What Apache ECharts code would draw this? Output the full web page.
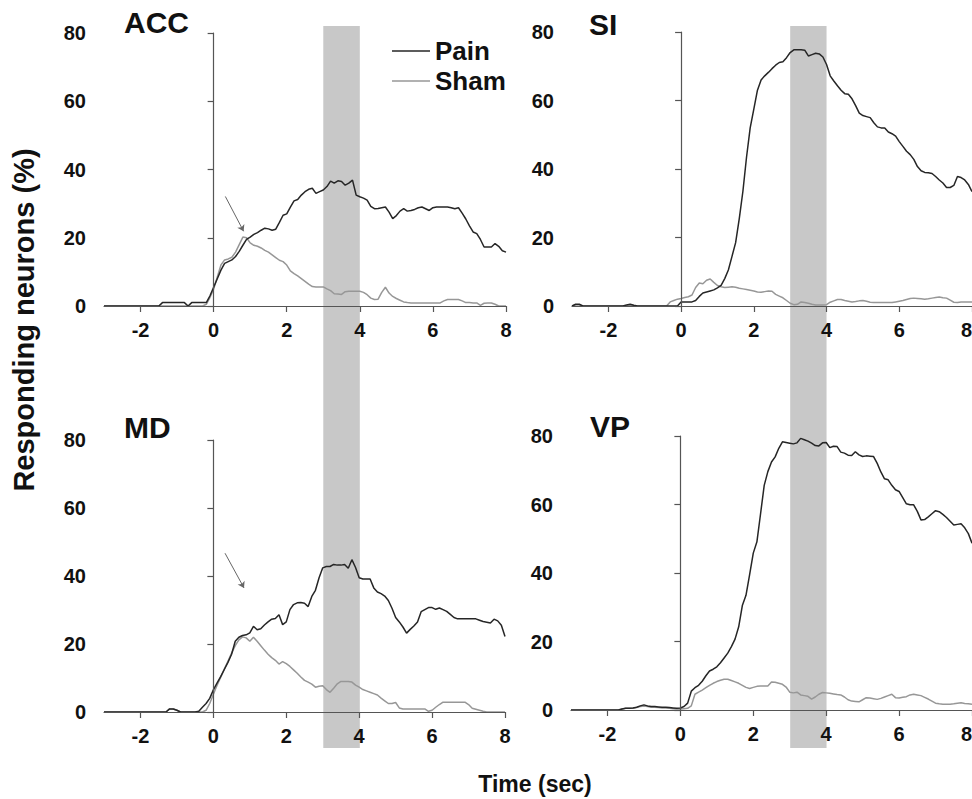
<!DOCTYPE html>
<html>
<head>
<meta charset="utf-8">
<title>Responding neurons</title>
<script src="https://cdn.jsdelivr.net/npm/echarts@6.0.0/dist/echarts.min.js"></script>
<style>
  html, body { margin: 0; padding: 0; background: #fff; }
  #chart { width: 972px; height: 799px; }
</style>
</head>
<body>
<div id="chart"></div>
<script>
// time axis (sec), one sample every 0.1 s
var time = [
  -3, -2.9, -2.8, -2.7, -2.6, -2.5, -2.4, -2.3, -2.2, -2.1,
  -2, -1.9, -1.8, -1.7, -1.6, -1.5, -1.4, -1.3, -1.2, -1.1,
  -1, -0.9, -0.8, -0.7, -0.6, -0.5, -0.4, -0.3, -0.2, -0.1,
  0, 0.1, 0.2, 0.3, 0.4, 0.5, 0.6, 0.7, 0.8, 0.9,
  1, 1.1, 1.2, 1.3, 1.4, 1.5, 1.6, 1.7, 1.8, 1.9,
  2, 2.1, 2.2, 2.3, 2.4, 2.5, 2.6, 2.7, 2.8, 2.9,
  3, 3.1, 3.2, 3.3, 3.4, 3.5, 3.6, 3.7, 3.8, 3.9,
  4, 4.1, 4.2, 4.3, 4.4, 4.5, 4.6, 4.7, 4.8, 4.9,
  5, 5.1, 5.2, 5.3, 5.4, 5.5, 5.6, 5.7, 5.8, 5.9,
  6, 6.1, 6.2, 6.3, 6.4, 6.5, 6.6, 6.7, 6.8, 6.9,
  7, 7.1, 7.2, 7.3, 7.4, 7.5, 7.6, 7.7, 7.8, 7.9,
  8
];

// ACC
var accPain = [
  0, 0, 0, 0, 0, 0, 0, 0, 0, 0,
  0, 0, 0, 0, 0, 0, 1, 1, 1, 1,
  1, 1, 1, 0, 1, 1, 1, 1, 1, 3,
  5.5, 8, 10.5, 12.5, 13, 13.5, 14.5, 16, 17.8, 19.5,
  20.2, 21, 21.5, 22.2, 22.8, 22.6, 22.2, 22.5, 24.5, 26.6,
  27, 29, 30.8, 31.2, 32.5, 33.5, 34.2, 34.5, 33, 33.5,
  34, 35, 36.6, 36, 36.7, 36.5, 35.4, 36, 36.9, 32.5,
  32, 31.6, 31, 29.2, 28.5, 28.6, 28.8, 29, 27.5, 25.6,
  26.5, 27.8, 28.5, 27.8, 28, 28.3, 28.8, 29, 28.5, 28,
  28.8, 29, 29, 29, 29, 28.8, 28.5, 28.8, 27.2, 25.5,
  23.5, 21.7, 21.2, 19.5, 17.3, 17.3, 17.3, 18.3, 17.5, 16.2,
  15.8
];
var accSham = [
  0, 0, 0, 0, 0, 0, 0, 0, 0, 0,
  0, 0, 0, 0, 0, 0, 0, 0, 0, 0,
  0, 0, 0, 0, 0, 0, 0, 0, 0.5, 2.5,
  5, 8.5, 12, 13.5, 13.8, 14.3, 15.8, 18, 20.2, 20,
  18.5, 17.8, 17.5, 17, 16.3, 15.8, 15, 14.2, 13.4, 13,
  12, 10.3, 9.5, 8.8, 8, 7.2, 6.4, 5.7, 5.6, 5.6,
  5.6, 5, 4.5, 3.6, 3.5, 3.4, 4.2, 4.3, 4.3, 4.3,
  4.3, 4, 3.3, 2.3, 1.9, 2, 4, 5.5, 3.8, 2.8,
  2.2, 1.7, 1.2, 1, 0.9, 0.9, 0.9, 0.9, 0.9, 0.9,
  0.9, 0.9, 0.9, 1.5, 1.9, 1.9, 1.9, 1.9, 1.5, 1,
  1, 0.9, 0.9, 0.2, 0.8, 0.9, 0.9, 0.5, 0, 0,
  0
];

// SI
var siPain = [
  0, 0.5, 0.5, 0, 0, 0, 0, 0, 0, 0,
  0, 0, 0, 0, 0, 0.3, 0.5, 0.2, 0, 0,
  0, 0, 0, 0, 0, 0, 0, 0, 0, 0,
  1.2, 1.2, 1.2, 1.2, 1.6, 2.8, 3.8, 4.1, 4.4, 4.7,
  5.3, 6, 8, 10.5, 14.5, 18.5, 25.5, 33.5, 43.5, 52,
  57.5, 63, 66, 67.2, 68.2, 69.3, 70.3, 71.1, 71.3, 72.5,
  74, 74.8, 74.8, 74.8, 74.7, 73, 73.4, 73.8, 73.6, 72.7,
  70.5, 67.2, 65.7, 64.3, 63, 62, 61.8, 60.5, 58.5, 56.3,
  55.6, 55.3, 55, 53.5, 52.3, 52, 52, 50.8, 50.3, 49.6,
  48, 46.6, 45.2, 44.2, 42.8, 40.7, 39.5, 39, 38.9, 38.7,
  37.8, 36.8, 35.9, 34.6, 34.6, 35.2, 37.8, 37.5, 36.8, 35.5,
  33.4
];
var siSham = [
  0, 0.3, 0.3, 0, 0, 0, 0, 0, 0, 0,
  0, 0, 0, 0, 0, 0, 0.3, 0, 0, 0,
  0, 0, 0, 0, 0, 0, 0, 1.2, 1.6, 2,
  2.2, 2.5, 2.7, 3.2, 5.4, 6.7, 6.5, 7.5, 7.9, 6.9,
  6, 5.6, 5.4, 5.5, 5.6, 5.5, 5.2, 5, 4.8, 4.6,
  4.4, 4.1, 4, 4.2, 4.4, 4.3, 3.4, 2.9, 2.4, 1.6,
  0.8, 0.4, 0.5, 1.2, 1, 0.8, 0.5, 0.3, 0.3, 0.3,
  0.4, 1.1, 1.5, 1.9, 1.9, 1.6, 1.4, 1.2, 1.3, 1.5,
  1.6, 1.4, 1.1, 1, 1, 1, 1, 1, 1, 1.2,
  1.4, 1.6, 1.9, 2.2, 2.3, 2.2, 2.1, 2, 2.1, 2.3,
  2.5, 2.6, 2.4, 2.3, 1.7, 1.1, 1, 1.2, 1.2, 1.2,
  1.2
];

// MD
var mdPain = [
  0, 0, 0, 0, 0, 0, 0, 0, 0, 0,
  0, 0, 0, 0, 0, 0, 0, 0, 0.9, 0.9,
  0.5, 0, 0, 0, 0, 0, 0.2, 1.4, 2.5, 4,
  6.5, 8.5, 10.4, 12.5, 14.6, 17, 20.8, 22, 22.5, 22.7,
  23.3, 25.2, 24.2, 24.5, 25.6, 26.5, 27.3, 27.5, 28.6, 25.7,
  26.5, 30.1, 31.6, 32.1, 32.2, 32, 31, 34, 35.8, 39.5,
  42.4, 42.8, 42.8, 43.4, 43.2, 43.2, 43.4, 42.3, 44.8, 42.5,
  39.5, 39.1, 39.1, 39.1, 36.5, 35.3, 34.8, 34.1, 32.8, 30.5,
  27.8, 26.5, 25, 23.2, 24.3, 25.3, 26.5, 29.5, 30.1, 30.7,
  30.7, 30.2, 30.6, 30.1, 29.6, 28.7, 27.8, 27.4, 27.4, 27.4,
  27.4, 27.4, 27.4, 27, 26.6, 26.4, 26.2, 27.3, 26.8, 25.5,
  22.2
];
var mdSham = [
  0, 0, 0, 0, 0, 0, 0, 0, 0, 0,
  0, 0, 0, 0, 0, 0, 0, 0, 0.9, 0.9,
  0.5, 0, 0, 0, 0, 0, 0, 0, 0.5, 2.5,
  5.2, 7.8, 10.2, 12.6, 14.9, 17.3, 19.5, 21.2, 22.1, 21.8,
  20.8, 22, 20.8, 19.5, 18.2, 17, 16, 15.2, 14.1, 14.8,
  14.2, 13.4, 12.4, 11.4, 10.3, 9.3, 8.8, 8.2, 7.3, 7.6,
  7.7, 6.6, 5.8, 7, 8.3, 9, 9, 9, 8.8, 7.9,
  7.3, 6.6, 6.2, 5.8, 5.4, 5, 4.1, 3.3, 2.5, 2.5,
  2.8, 1.2, 0.9, 0.9, 0.9, 0.9, 0.9, 0.9, 0.9, 0.2,
  0.5, 1.4, 2.2, 2.9, 2.9, 2.9, 2.9, 2.9, 2.9, 2.9,
  2.2, 1.1, 0.8, 0.5, 0.2, 0, 0, 0, 0, 0,
  0
];

// VP
var vpPain = [
  0, 0, 0, 0, 0, 0, 0, 0, 0, 0,
  0, 0, 0, 0, 0.3, 0.5, 0.5, 0.6, 0.8, 1.2,
  1.5, 1.2, 1, 1, 0.9, 0.8, 0.8, 0.7, 0.6, 0.5,
  0.6, 1, 2, 5.5, 6.5, 7.2, 8.4, 10, 11.4, 11.9,
  12.6, 13.8, 15.2, 16.6, 18.5, 20.7, 24.3, 30.5, 33.5, 39.5,
  45.8, 49.1, 57.3, 65.6, 69.6, 72.4, 73.9, 76.4, 78.3, 78.1,
  77.9, 77.7, 78, 79.3, 78.9, 78.5, 77.9, 77.2, 77.1, 78,
  78.1, 76.6, 77, 76.9, 75.3, 75, 74.4, 74.3, 75.4, 74.5,
  74, 74.2, 74.1, 74, 72, 69.5, 67.5, 67.2, 65.6, 64.3,
  63.8, 62, 60.2, 59.9, 59.9, 58, 55.5, 55.6, 56.4, 57.3,
  58.2, 57.9, 57.1, 56.2, 55.1, 54, 54.2, 54.4, 53.2, 51.5,
  48.7
];
var vpSham = [
  0, 0, 0, 0, 0, 0, 0, 0, 0, 0,
  0, 0, 0, 0, 0.3, 0.5, 0.5, 0.5, 0.7, 1,
  1.2, 1, 0.8, 0.8, 0.7, 0.6, 0.6, 0.5, 0.4, 0.3,
  0.3, 0.4, 0.5, 1.2, 4.6, 5.2, 5.8, 6.5, 7.2, 7.8,
  8.3, 8.7, 9, 9, 8.6, 8.2, 7.8, 7.2, 6.6, 6.3,
  6.6, 6.9, 7, 7, 7, 8.2, 8.1, 7.8, 7.5, 6.7,
  5.2, 5, 5.2, 4.4, 4.2, 4, 3.2, 3.8, 4.6, 5.1,
  5, 4.9, 4.7, 4.5, 4.4, 3.8, 3, 2.6, 2.5, 2.4,
  3, 3.6, 3.5, 3.3, 3.1, 3.4, 3.8, 4.2, 4.6, 3.6,
  3.5, 3.7, 3.9, 4.4, 4.6, 4.4, 4.2, 3.7, 3.2, 2.6,
  2, 1.8, 1.7, 1.7, 1.7, 1.8, 2, 2.1, 1.9, 1.8,
  1.7
];

var panelNames = ['ACC', 'SI', 'MD', 'VP'];
var painData = [accPain, siPain, mdPain, vpPain];
var shamData = [accSham, siSham, mdSham, vpSham];
var xTicks = [-2, 0, 2, 4, 6, 8];
var yTicks = [0, 20, 40, 60, 80];
var stimWindow = [3, 4];          // grey band, sec
var stimOnset = 0;                // dotted line, sec
// arrows (data coords): [start, end]
var accArrow = [[0.32, 32.1], [0.82, 21.9]];
var mdArrow = [[0.32, 46.7], [0.84, 36.5]];

var FONT = 'Liberation Sans, Arial, sans-serif';
var PAIN_COLOR = '#262626';
var SHAM_COLOR = '#979797';
var AXIS_COLOR = '#555';

function pairs(ys) {
  return time.map(function (t, i) { return [t, ys[i]]; });
}

var chart = echarts.init(document.getElementById('chart'), null, { renderer: 'svg' });

// panel grids + two tall grids for the grey band that runs through both rows
var grids = [
  { left: 104, top: 33, width: 402, height: 273 },
  { left: 572, top: 32, width: 400, height: 274 },
  { left: 104, top: 440, width: 401, height: 272 },
  { left: 571, top: 436, width: 401, height: 274 },
  { left: 104, top: 26, width: 402, height: 722 },
  { left: 572, top: 26, width: 400, height: 722 }
].map(function (g) { g.outerBoundsMode = 'none'; g.containLabel = false; return g; });

var xAxes = [], yAxes = [], series = [];
for (var i = 0; i < 4; i++) {
  var rightCol = (i % 2 === 1);
  xAxes.push({
    gridIndex: i, type: 'value', min: -3, max: 8, z: 6,
    axisLine: { show: true, onZero: false, lineStyle: { color: AXIS_COLOR, width: 1.2 } },
    axisTick: { show: true, length: 6, customValues: xTicks, lineStyle: { color: AXIS_COLOR, width: 1.2 } },
    axisLabel: {
      customValues: xTicks, margin: 14, fontSize: 20, fontWeight: 'bold', color: '#111', fontFamily: FONT,
      // right column runs to the page edge: keep the last label inside
      alignMaxLabel: rightCol ? 'right' : null
    },
    splitLine: { show: false }
  });
  yAxes.push({
    gridIndex: i, type: 'value', min: 0, max: 80, interval: 20, z: 6,
    axisLine: { show: true, lineStyle: { color: AXIS_COLOR, width: 1.2 } },
    axisTick: { show: true, length: 6, lineStyle: { color: AXIS_COLOR, width: 1.2 } },
    axisLabel: { margin: 18, fontSize: 20, fontWeight: 'bold', color: '#111', fontFamily: FONT },
    splitLine: { show: false }
  });
  var arrow = i === 0 ? accArrow : (i === 2 ? mdArrow : null);
  series.push({
    name: 'Sham', type: 'line', xAxisIndex: i, yAxisIndex: i,
    data: pairs(shamData[i]), showSymbol: false, z: 3,
    color: SHAM_COLOR,
    lineStyle: { color: SHAM_COLOR, width: 1.5 },
    markLine: {
      silent: true, symbol: 'none', label: { show: false },
      lineStyle: { color: '#e2e2e2', type: 'dotted', width: 1 },
      data: [{ xAxis: stimOnset }]
    }
  });
  series.push({
    name: 'Pain', type: 'line', xAxisIndex: i, yAxisIndex: i,
    data: pairs(painData[i]), showSymbol: false, z: 4,
    color: PAIN_COLOR,
    lineStyle: { color: PAIN_COLOR, width: 1.5 },
    markLine: arrow ? {
      silent: true, symbol: ['none', 'arrow'], symbolSize: 6, label: { show: false },
      lineStyle: { color: '#666', type: 'solid', width: 1 },
      data: [[{ coord: arrow[0] }, { coord: arrow[1] }]]
    } : undefined
  });
}
for (var j = 4; j < 6; j++) {
  xAxes.push({ gridIndex: j, type: 'value', min: -3, max: 8, show: false });
  yAxes.push({ gridIndex: j, type: 'value', min: 0, max: 1, show: false });
  series.push({
    type: 'line', xAxisIndex: j, yAxisIndex: j, data: [], silent: true, z: 0,
    markArea: {
      silent: true,
      itemStyle: { color: '#c8c8c8' },
      data: [[{ xAxis: stimWindow[0] }, { xAxis: stimWindow[1] }]]
    }
  });
}

var titlePos = [
  { left: 124, top: 7 },
  { left: 589, top: 9 },
  { left: 124, top: 412 },
  { left: 590, top: 411 }
];

chart.setOption({
  animation: false,
  backgroundColor: '#fff',
  title: panelNames.map(function (n, k) {
    return {
      text: n, left: titlePos[k].left, top: titlePos[k].top, padding: 0,
      textStyle: { fontSize: 30, fontWeight: 'bold', color: '#111', fontFamily: FONT }
    };
  }),
  legend: {
    data: ['Pain', 'Sham'], orient: 'vertical', left: 392, top: 38,
    icon: 'rect', itemWidth: 38, itemHeight: 1.5, itemGap: 4, padding: 0,
    selectedMode: false,
    textStyle: { fontSize: 26, fontWeight: 'bold', color: '#111', fontFamily: FONT }
  },
  grid: grids,
  xAxis: xAxes,
  yAxis: yAxes,
  series: series,
  graphic: [
    {
      type: 'text', x: 24, y: 320, rotation: Math.PI / 2,
      style: {
        text: 'Responding neurons (%)', fontSize: 29, fontWeight: 'bold', fontFamily: FONT,
        fill: '#111', textAlign: 'center', textVerticalAlign: 'middle'
      }
    },
    {
      type: 'text', x: 535, y: 784,
      style: {
        text: 'Time (sec)', fontSize: 23, fontWeight: 'bold', fontFamily: FONT,
        fill: '#111', textAlign: 'center', textVerticalAlign: 'middle'
      }
    }
  ]
});
</script>
</body>
</html>
